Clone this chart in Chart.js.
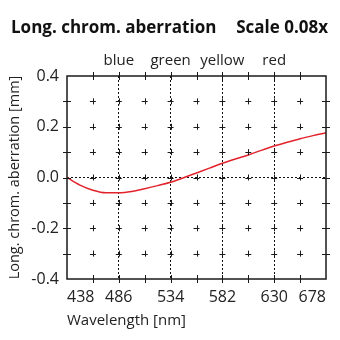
<!DOCTYPE html>
<html>
<head>
<meta charset="utf-8">
<script src="https://cdn.jsdelivr.net/npm/chart.js@4/dist/chart.umd.min.js"></script>
<style>
  html, body { margin: 0; padding: 0; background: #fff; }
  #wrap { width: 340px; height: 340px; }
</style>
</head>
<body>
<div id="wrap"><canvas id="lca" width="340" height="340"></canvas></div>
<script>
// wavelength samples [nm] and longitudinal chromatic aberration [mm]
const wavelengths = [438, 450, 462, 474, 486, 498, 510, 522, 534, 546, 558, 570, 582, 594, 606, 618, 630, 642, 654, 666, 678];
const aberration  = [0.0, -0.030, -0.050, -0.060, -0.060, -0.055, -0.044, -0.032, -0.019, -0.001, 0.018, 0.037, 0.056, 0.073, 0.089, 0.107, 0.124, 0.139, 0.153, 0.165, 0.176];

// spectral band names shown along the top
const bandNames = ['blue', 'green', 'yellow', 'red'];
const bandWavelengths = [486, 534, 582, 630];

const FONT = "'Open Sans', 'DejaVu Sans', sans-serif";
const INK = '#222';

// frame, cross marks at every grid node and the heading
const decor = {
    id: 'decor',
    afterDatasetsDraw(chart) {
        const ctx = chart.ctx;
        const a = chart.chartArea;
        const xs = chart.scales.x, ys = chart.scales.y;
        ctx.save();
        ctx.strokeStyle = '#1a1a1a';
        ctx.lineWidth = 1;
        const xv = xs.ticks.map(t => xs.getPixelForValue(t.value));
        const yv = ys.ticks.map(t => ys.getPixelForValue(t.value));
        ctx.beginPath();
        xv.forEach(px => {
            yv.forEach(py => {
                const onX = Math.abs(px - a.left) < 1 || Math.abs(px - a.right) < 1;
                const onY = Math.abs(py - a.top) < 1 || Math.abs(py - a.bottom) < 1;
                if (onX && onY) return;
                const r = (onX || onY) ? 4 : 3;
                if (!onX) { ctx.moveTo(Math.round(px) + 0.5, py - r); ctx.lineTo(Math.round(px) + 0.5, py + r); }
                if (!onY) { ctx.moveTo(px - r, Math.round(py) + 0.5); ctx.lineTo(px + r, Math.round(py) + 0.5); }
            });
        });
        ctx.stroke();
        ctx.lineWidth = 1.5;
        ctx.strokeRect(a.left, a.top, a.right - a.left, a.bottom - a.top);

        ctx.fillStyle = '#111';
        ctx.font = 'bold 17px ' + FONT;
        ctx.textBaseline = 'middle';
        ctx.textAlign = 'left';
        ctx.fillText('Long. chrom. aberration', 11, 28);
        ctx.textAlign = 'right';
        ctx.fillText('Scale 0.08x', 328, 28);
        ctx.restore();
    }
};

new Chart(document.getElementById('lca'), {
    type: 'line',
    data: {
        datasets: [{
            data: wavelengths.map((w, i) => ({ x: w, y: aberration[i] })),
            borderColor: '#e3232c',
            borderWidth: 1.5,
            pointRadius: 0,
            cubicInterpolationMode: 'monotone',
            fill: false
        }]
    },
    options: {
        responsive: false,
        devicePixelRatio: 1,
        animation: false,
        layout: { padding: { left: 0, right: 14, top: 0, bottom: 0 } },
        plugins: { legend: { display: false }, tooltip: { enabled: false }, title: { display: false } },
        scales: {
            x: {
                type: 'linear',
                min: 438,
                max: 678,
                afterFit: s => { s.height = 61; },
                ticks: {
                    stepSize: 24,
                    autoSkip: false,
                    maxRotation: 0,
                    align: 'inner',
                    padding: 9,
                    color: INK,
                    font: { family: FONT, size: 16 },
                    callback: v => ((v - 438) % 48 === 0 ? String(v) : '')
                },
                grid: {
                    drawTicks: false,
                    lineWidth: 1,
                    color: c => (c.tick && bandWavelengths.includes(c.tick.value) ? '#111' : 'rgba(0,0,0,0)')
                },
                border: { display: false, dash: [2, 2] },
                title: {
                    display: true,
                    text: 'Wavelength [nm]',
                    align: 'start',
                    color: INK,
                    font: { family: FONT, size: 15 },
                    padding: { top: 0, bottom: 10 }
                }
            },
            x2: {
                type: 'linear',
                position: 'top',
                min: 438,
                max: 678,
                afterFit: s => { s.height = 76; },
                afterBuildTicks: s => { s.ticks = bandWavelengths.map(v => ({ value: v })); },
                ticks: {
                    autoSkip: false,
                    maxRotation: 0,
                    padding: 6,
                    color: INK,
                    font: { family: FONT, size: 15 },
                    callback: (v, i) => bandNames[i]
                },
                grid: { display: false, drawTicks: false },
                border: { display: false }
            },
            y: {
                type: 'linear',
                min: -0.4,
                max: 0.4,
                afterFit: s => { s.width = 67; },
                ticks: {
                    stepSize: 0.1,
                    autoSkip: false,
                    padding: 8,
                    color: INK,
                    font: { family: FONT, size: 16 },
                    callback: v => (Math.round(v * 10) % 2 === 0 ? v.toFixed(1) : '')
                },
                grid: {
                    drawTicks: false,
                    lineWidth: 1,
                    color: c => (c.tick && Math.abs(c.tick.value) < 1e-9 ? '#111' : 'rgba(0,0,0,0)')
                },
                border: { display: false, dash: [2, 2] },
                title: {
                    display: true,
                    text: 'Long. chrom. aberration [mm]',
                    color: INK,
                    font: { family: FONT, size: 14.5 },
                    padding: { top: 6, bottom: 0 }
                }
            }
        }
    },
    plugins: [decor]
});
</script>
</body>
</html>
